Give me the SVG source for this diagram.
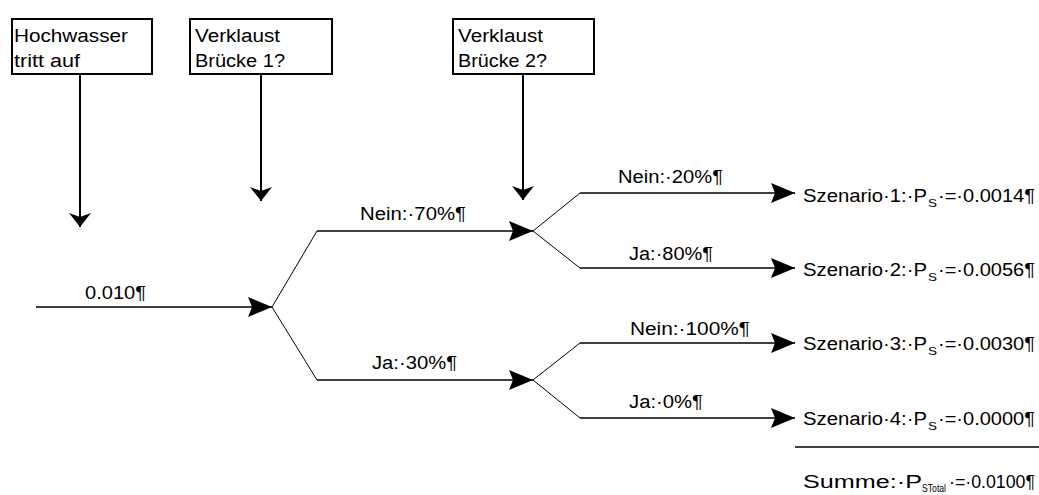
<svg xmlns="http://www.w3.org/2000/svg" width="1039" height="495" viewBox="0 0 1039 495">
<style>
.bg{fill:#ffffff}
.box{fill:#ffffff;stroke:#000000;stroke-width:2}
.t{font-family:"Liberation Sans",Arial,sans-serif;font-size:18px;fill:#000000}
.sub{font-family:"Liberation Sans",Arial,sans-serif;font-size:11px;fill:#000000}
.ln{stroke:#000000;stroke-width:1.6;fill:none}
.dg{stroke:#000000;stroke-width:1;fill:none}
.vl{stroke:#000000;stroke-width:2;fill:none}
</style>
<defs>
<marker id="ah" viewBox="0 0 24 20" refX="24" refY="10" markerWidth="24" markerHeight="20" markerUnits="userSpaceOnUse" orient="auto">
<path d="M0,0 L24,10 L0,20 L4,10 Z" fill="#000000"/>
</marker>
<marker id="av" viewBox="0 0 14 22" refX="14" refY="11" markerWidth="14" markerHeight="22" markerUnits="userSpaceOnUse" orient="auto">
<path d="M0,0 L14,11 L0,22 L4,11 Z" fill="#000000"/>
</marker>
</defs>
<rect class="bg" x="0" y="0" width="1039" height="495"/>

<g id="node-hochwasser">
<rect class="box" x="12" y="19" width="140" height="55"/>
<text class="t" x="14" y="42" textLength="114" lengthAdjust="spacingAndGlyphs">Hochwasser</text>
<text class="t" x="14" y="67" textLength="66" lengthAdjust="spacingAndGlyphs">tritt auf</text>
</g>
<g id="node-bruecke1">
<rect class="box" x="190" y="19" width="142" height="55"/>
<text class="t" x="195" y="42" textLength="85" lengthAdjust="spacingAndGlyphs">Verklaust</text>
<text class="t" x="195" y="67" textLength="90" lengthAdjust="spacingAndGlyphs">Brücke 1?</text>
</g>
<g id="node-bruecke2">
<rect class="box" x="453" y="19" width="141" height="55"/>
<text class="t" x="458" y="42" textLength="85" lengthAdjust="spacingAndGlyphs">Verklaust</text>
<text class="t" x="458" y="67" textLength="89" lengthAdjust="spacingAndGlyphs">Brücke 2?</text>
</g>

<g id="connectors">
<line class="vl" x1="80" y1="75" x2="80" y2="227" marker-end="url(#av)"/>
<line class="vl" x1="261" y1="75" x2="261" y2="201" marker-end="url(#av)"/>
<line class="vl" x1="523" y1="75" x2="523" y2="200" marker-end="url(#av)"/>

<line class="ln" x1="36" y1="307" x2="272" y2="307" marker-end="url(#ah)"/>
<polyline class="dg" points="272,307 317,231"/>
<polyline class="dg" points="272,307 317,380"/>
<line class="ln" x1="317" y1="231" x2="533" y2="231" marker-end="url(#ah)"/>
<line class="ln" x1="317" y1="380" x2="533" y2="380" marker-end="url(#ah)"/>

<polyline class="dg" points="533,231 580,193"/>
<polyline class="dg" points="533,231 580,268"/>
<polyline class="dg" points="533,380 580,343"/>
<polyline class="dg" points="533,380 580,418"/>
<line class="ln" x1="580" y1="193" x2="795" y2="193" marker-end="url(#ah)"/>
<line class="ln" x1="580" y1="268" x2="795" y2="268" marker-end="url(#ah)"/>
<line class="ln" x1="580" y1="343" x2="795" y2="343" marker-end="url(#ah)"/>
<line class="ln" x1="580" y1="418" x2="795" y2="418" marker-end="url(#ah)"/>

<text class="t" x="85" y="299" textLength="61" lengthAdjust="spacingAndGlyphs">0.010¶</text>
<text class="t" x="360" y="220" textLength="106" lengthAdjust="spacingAndGlyphs">Nein:·70%¶</text>
<text class="t" x="372" y="369" textLength="85" lengthAdjust="spacingAndGlyphs">Ja:·30%¶</text>
<text class="t" x="618" y="183" textLength="105" lengthAdjust="spacingAndGlyphs">Nein:·20%¶</text>
<text class="t" x="629" y="260" textLength="84" lengthAdjust="spacingAndGlyphs">Ja:·80%¶</text>
<text class="t" x="630" y="335" textLength="120" lengthAdjust="spacingAndGlyphs">Nein:·100%¶</text>
<text class="t" x="629" y="408" textLength="74" lengthAdjust="spacingAndGlyphs">Ja:·0%¶</text>
</g>

<g id="node-scenario1">
<text class="t" x="803" y="202" textLength="124" lengthAdjust="spacingAndGlyphs">Szenario·1:·P</text>
<text class="sub" x="928" y="207" textLength="9" lengthAdjust="spacingAndGlyphs">S</text>
<text class="t" x="938" y="202" textLength="97" lengthAdjust="spacingAndGlyphs">·=·0.0014¶</text>
</g>
<g id="node-scenario2">
<text class="t" x="803" y="276" textLength="124" lengthAdjust="spacingAndGlyphs">Szenario·2:·P</text>
<text class="sub" x="928" y="281" textLength="9" lengthAdjust="spacingAndGlyphs">S</text>
<text class="t" x="938" y="276" textLength="97" lengthAdjust="spacingAndGlyphs">·=·0.0056¶</text>
</g>
<g id="node-scenario3">
<text class="t" x="803" y="350" textLength="124" lengthAdjust="spacingAndGlyphs">Szenario·3:·P</text>
<text class="sub" x="928" y="355" textLength="9" lengthAdjust="spacingAndGlyphs">S</text>
<text class="t" x="938" y="350" textLength="97" lengthAdjust="spacingAndGlyphs">·=·0.0030¶</text>
</g>
<g id="node-scenario4">
<text class="t" x="803" y="425" textLength="124" lengthAdjust="spacingAndGlyphs">Szenario·4:·P</text>
<text class="sub" x="928" y="430" textLength="9" lengthAdjust="spacingAndGlyphs">S</text>
<text class="t" x="938" y="425" textLength="97" lengthAdjust="spacingAndGlyphs">·=·0.0000¶</text>
</g>
<g id="node-summe">
<line class="ln" x1="795" y1="447" x2="1039" y2="447"/>
<text class="t" x="803" y="488" textLength="119" lengthAdjust="spacingAndGlyphs">Summe:·P</text>
<text class="sub" x="922" y="492" textLength="24" lengthAdjust="spacingAndGlyphs">STotal</text>
<text class="t" x="949" y="488" textLength="86" lengthAdjust="spacingAndGlyphs">·=·0.0100¶</text>
</g>
</svg>
